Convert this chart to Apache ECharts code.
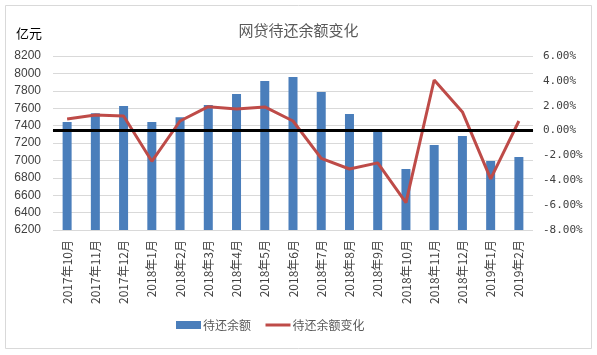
<!DOCTYPE html>
<html><head><meta charset="utf-8">
<script src="https://cdn.jsdelivr.net/npm/echarts@6/dist/echarts.min.js"></script>
<style>html,body{margin:0;padding:0;background:#fff}#c{width:597px;height:355px}</style>
</head><body><div id="c"></div>
<script>
const categories = ['2017年10月','2017年11月','2017年12月','2018年1月','2018年2月','2018年3月','2018年4月','2018年5月','2018年6月','2018年7月','2018年8月','2018年9月','2018年10月','2018年11月','2018年12月','2019年1月','2019年2月'];
const balance = [7441, 7541, 7625, 7441, 7495, 7637, 7763, 7913, 7959, 7786, 7533, 7338, 6901, 7177, 7280, 6993, 7039];
const changePct = [0.93, 1.25, 1.17, -2.47, 0.77, 1.92, 1.74, 1.90, 0.77, -2.23, -3.09, -2.60, -5.80, 4.07, 1.50, -3.89, 0.77];
const seriesNames = ['待还余额', '待还余额变化'];
const titleText = '网贷待还余额变化';
const unitText = '亿元';

const chart = echarts.init(document.getElementById('c'));
chart.setOption({
  animation: false,
  backgroundColor: '#fff',
  title: {text: titleText, left: 'center', top: 18, textStyle: {fontSize: 15, fontWeight: 'normal', color: '#595959', fontFamily: 'Noto Sans CJK SC'}},
  graphic: [
    {type: 'rect', shape: {x: 5.5, y: 5.5, width: 586, height: 343}, style: {fill: 'none', stroke: '#D9D9D9', lineWidth: 1}, silent: true},
    {type: 'text', left: 16, top: 27, style: {text: unitText, fontSize: 13, fill: '#000', fontFamily: 'Noto Sans CJK SC'}}
  ],
  legend: {
    bottom: 19, left: 171, itemGap: 13, itemWidth: 25, itemHeight: 8,
    textStyle: {fontSize: 12, color: '#595959', fontFamily: 'Noto Sans CJK SC', padding: [0, 0, 0, -3]},
    data: [
      {name: seriesNames[0], icon: 'rect'},
      {name: seriesNames[1], itemStyle: {color: 'rgba(0,0,0,0)', borderWidth: 0}, lineStyle: {color: '#BE4B48', width: 3}}
    ]
  },
  grid: {left: 53, right: 64, top: 56, bottom: 125},
  xAxis: {
    type: 'category', data: categories,
    axisTick: {show: false},
    axisLine: {show: true, lineStyle: {color: '#D9D9D9'}},
    axisLabel: {rotate: 90, fontSize: 12, color: '#404040', interval: 0, margin: 10, fontFamily: 'Noto Sans CJK SC'}
  },
  yAxis: [
    {type: 'value', min: 6200, max: 8200, interval: 200,
     axisLine: {show: false}, axisTick: {show: false},
     splitLine: {lineStyle: {color: '#D9D9D9'}},
     axisLabel: {fontSize: 12, color: '#404040', margin: 12, fontFamily: 'Liberation Sans', formatter: v => String(v)}},
    {type: 'value', min: -8, max: 6, interval: 2, position: 'right',
     axisLine: {show: false}, axisTick: {show: false}, splitLine: {show: false},
     axisLabel: {fontSize: 11, color: '#404040', margin: 10, fontFamily: 'DejaVu Sans Mono',
       formatter: v => v.toFixed(2) + '%'}}
  ],
  series: [
    {name: seriesNames[0], type: 'bar', data: balance, barWidth: 9, itemStyle: {color: '#4A7EBB'}, yAxisIndex: 0},
    {name: seriesNames[1], type: 'line', data: changePct, yAxisIndex: 1, symbol: 'none', smooth: false,
     lineStyle: {color: '#BE4B48', width: 3}, itemStyle: {color: '#BE4B48'},
     markLine: {silent: true, symbol: 'none', label: {show: false},
       lineStyle: {color: '#000', width: 3, type: 'solid'}, data: [{yAxis: 0}]}}
  ]
});
</script></body></html>
